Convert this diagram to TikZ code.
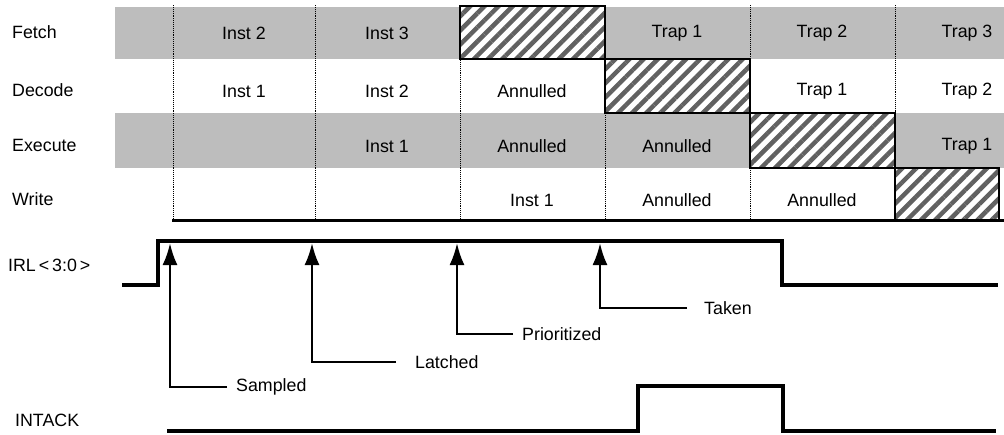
\documentclass[tikz,border=0pt]{standalone}
\usepackage{fontspec}
\setmainfont{Liberation Sans}
\usetikzlibrary{patterns.meta,arrows.meta}
\begin{document}
\begin{tikzpicture}[x=1pt,y=-1pt,
  lbl/.style={font=\fontsize{17.8}{20}\selectfont, inner sep=0pt},
  band/.style={fill=black!26},
  hatchbox/.style={draw=black, line width=2.6pt, preaction={fill=white},
     pattern={Lines[angle=45,distance=10pt,line width=4.5pt]}, pattern color=black!62},
  colline/.style={densely dotted, line width=0.9pt},
  sig/.style={line width=3.4pt, line join=miter},
  arr/.style={line width=2.6pt, -{Latex[length=22pt,width=15pt]}}]
\useasboundingbox (0,0) rectangle (1004,434);
% bands
\fill[band] (115,7) rectangle (1004,59);
\fill[band] (115,113) rectangle (1004,168);
% column lines
\foreach \x in {173,315,460,605,750,895}
  \draw[colline] (\x,5) -- (\x,220);
\draw[line width=3pt] (172,220) -- (1004,220);
% hatched boxes
\path[hatchbox] (460,6) rectangle (605,59);
\path[hatchbox] (605,59) rectangle (750,113);
\path[hatchbox] (750,113) rectangle (895,168);
\path[hatchbox] (895,168) rectangle (999,220);
% row labels
\node[lbl, anchor=west] (fetch) at (12,32) {Fetch};
\node[lbl, anchor=west] (decode) at (12,90) {Decode};
\node[lbl, anchor=west] (execute) at (12,145) {Execute};
\node[lbl, anchor=west] (write) at (12,199) {Write};
% cells
\node[lbl] (f1) at (244,33) {Inst 2};
\node[lbl] (f2) at (387,33) {Inst 3};
\node[lbl] (f4) at (677,33) {Trap 1};
\node[lbl] (f5) at (822,33) {Trap 2};
\node[lbl] (f6) at (967,33) {Trap 3};
\node[lbl] (d1) at (244,91) {Inst 1};
\node[lbl] (d2) at (387,91) {Inst 2};
\node[lbl] (d3) at (532,91) {Annulled};
\node[lbl] (d5) at (822,91) {Trap 1};
\node[lbl] (d6) at (967,91) {Trap 2};
\node[lbl] (e2) at (387,146) {Inst 1};
\node[lbl] (e3) at (532,146) {Annulled};
\node[lbl] (e4) at (677,146) {Annulled};
\node[lbl] (e6) at (967,146) {Trap 1};
\node[lbl] (w3) at (532,200) {Inst 1};
\node[lbl] (w4) at (677,200) {Annulled};
\node[lbl] (w5) at (822,200) {Annulled};
% signals
\node[lbl, anchor=west] (irl) at (8,265) {IRL\,<\,3:0\,>};
\node[lbl, anchor=west] (intack) at (15,420) {INTACK};
\draw[sig] (122,285) -- (158,285) -- (158,241) -- (782,241) -- (782,285) -- (998,285);
\draw[sig] (167,431) -- (638,431) -- (638,386) -- (783,386) -- (783,431) -- (996,431);
% arrows
\coordinate (tS) at (170,243);
\coordinate (tL) at (312,243);
\coordinate (tP) at (457,243);
\coordinate (tT) at (600,243);
\node[lbl, anchor=west] (sampled) at (236,387) {Sampled};
\node[lbl, anchor=west] (latched) at (415,362) {Latched};
\node[lbl, anchor=west] (prio) at (522,334) {Prioritized};
\node[lbl, anchor=west] (taken) at (704,308) {Taken};
\draw[arr] ([xshift=-9pt]sampled.west) -| (tS);
\draw[arr] ([xshift=-19pt]latched.west) -| (tL);
\draw[arr] ([xshift=-9pt]prio.west) -| (tP);
\draw[arr] ([xshift=-17pt]taken.west) -| (tT);
\end{tikzpicture}
\end{document}
